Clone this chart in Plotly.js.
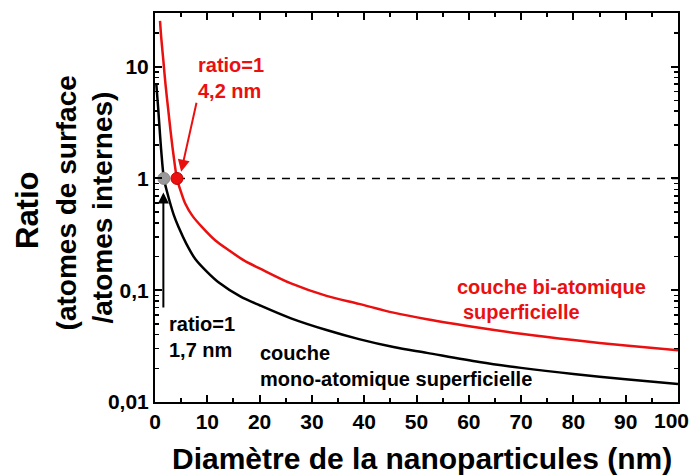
<!DOCTYPE html>
<html>
<head>
<meta charset="utf-8">
<script src="https://cdn.plot.ly/plotly-3.0.1.min.js"></script>
<style>html,body{margin:0;padding:0;background:#fff;}#chart{width:694px;height:476px;}</style>
</head>
<body>
<div id="chart"></div>
<script>
// Mono-atomic surface layer (black curve)
const monoDiameter = [0.25, 0.45, 0.64, 0.9, 1.2, 1.7, 2.3, 2.9, 3.6, 4.5, 6, 7.7, 10, 12.2, 16.3, 20.1, 26, 32.8, 39, 45.6, 52, 62, 70, 80, 90, 100];
const monoRatio    = [7.0, 5.3, 4.05, 2.7, 1.75, 1.0, 0.76, 0.6, 0.47, 0.367, 0.26, 0.19, 0.145, 0.117, 0.088, 0.073, 0.056, 0.044, 0.0365, 0.031, 0.0275, 0.0228, 0.0202, 0.0178, 0.016, 0.0145];
// Bi-atomic surface layer (red curve)
const biDiameter = [0.96, 1.2, 1.6, 2.0, 2.55, 3.0, 3.5, 4.2, 5.0, 5.8, 7.2, 9, 11.5, 14.1, 17, 20.1, 26, 32.8, 39, 45.6, 52, 62, 70, 80, 90, 100];
const biRatio    = [25.7, 18, 11.3, 7.0, 4.05, 2.6, 1.67, 1.0, 0.75, 0.594, 0.46, 0.367, 0.28, 0.228, 0.185, 0.156, 0.115, 0.089, 0.0755, 0.063, 0.055, 0.0462, 0.0408, 0.0358, 0.032, 0.029];
// Ratio = 1 crossing points
const crossDiameter = [1.7, 4.2];
const crossRatio = [1, 1];
const dashX = [4.2, 100];
const dashY = [1, 1];
// Tick labels (the last one, "100", is drawn as an annotation so it stays inside the page)
const xTickVals = [0, 10, 20, 30, 40, 50, 60, 70, 80, 90, 100];
const xTickText = ['0', '10', '20', '30', '40', '50', '60', '70', '80', '90', ''];
const xLastLabel = '100';
const yTickVals = [0.01, 0.1, 1, 10];
const yTickText = ['0,01', '0,1', '1', '10'];

const RED = '#ea1010';
const FONT = 'Liberation Sans, Arial, sans-serif';

const minorY = [];
[0.01, 0.1, 1, 10].forEach(d => { for (let k = 2; k <= 9; k++) minorY.push(d * k); });

const traces = [
  {x: dashX, y: dashY, mode: 'lines', line: {color: '#000', width: 1.5, dash: '8px,7px'}, hoverinfo: 'skip'},
  {x: monoDiameter, y: monoRatio, mode: 'lines', line: {color: '#000', width: 2.5, shape: 'spline', smoothing: 0.9}},
  {x: biDiameter, y: biRatio, mode: 'lines', line: {color: RED, width: 2.5, shape: 'spline', smoothing: 0.9}},
  {x: crossDiameter, y: crossRatio, mode: 'markers',
   marker: {size: 12, color: ['#999999', RED], line: {color: ['#888888', '#c00000'], width: 1}}}
];

const axisCommon = {
  showline: true, linecolor: '#000', linewidth: 2, mirror: 'allticks',
  ticks: 'inside', ticklen: 7, tickwidth: 2, tickcolor: '#000',
  showgrid: false, zeroline: false,
  tickfont: {family: FONT, size: 21, color: '#000', weight: 'bold'}
};

const layout = {
  width: 694, height: 476,
  margin: {l: 155, r: 16, t: 13, b: 74},
  paper_bgcolor: '#fff', plot_bgcolor: '#fff',
  showlegend: false,
  font: {family: FONT, color: '#000'},
  xaxis: Object.assign({}, axisCommon, {
    range: [0, 100], tickmode: 'array', tickvals: xTickVals, ticktext: xTickText,
    minor: {ticks: 'inside', ticklen: 4, tickwidth: 2, tickcolor: '#000', dtick: 5, tick0: 0}
  }),
  yaxis: Object.assign({}, axisCommon, {
    type: 'log', range: [-2, 1.48], tickmode: 'array', tickvals: yTickVals, ticktext: yTickText,
    minor: {ticks: 'inside', ticklen: 4, tickwidth: 1.5, tickcolor: '#000', tickmode: 'array', tickvals: minorY}
  }),
  annotations: [
    {xref: 'paper', yref: 'paper', x: 1.0249, y: -0.0488, xanchor: 'right', yanchor: 'middle',
     text: '<b>' + xLastLabel + '</b>', showarrow: false, font: {family: FONT, size: 21, color: '#000'}},
    {xref: 'paper', yref: 'paper', x: -0.2428, y: 0.4936, xanchor: 'center', yanchor: 'middle',
     text: '<b>Ratio</b>', textangle: -90, showarrow: false, font: {family: FONT, size: 31, color: '#000'}},
    {xref: 'paper', yref: 'paper', x: -0.1675, y: 0.5116, xanchor: 'center', yanchor: 'middle',
     text: '<b>(atomes de surface</b>', textangle: -90, showarrow: false, font: {family: FONT, size: 28, color: '#000'}},
    {xref: 'paper', yref: 'paper', x: -0.1006, y: 0.501, xanchor: 'center', yanchor: 'middle',
     text: '<b>/atomes internes)</b>', textangle: -90, showarrow: false, font: {family: FONT, size: 28, color: '#000'}},
    {xref: 'paper', yref: 'paper', x: 0.5105, y: -0.144, xanchor: 'center', yanchor: 'middle',
     text: '<b>Diamètre de la nanoparticules (nm)</b>', showarrow: false, font: {family: FONT, size: 30, color: '#000'}},
    {xref: 'x', yref: 'paper', x: 7.8, y: 0.834, xanchor: 'left', yanchor: 'middle', align: 'left',
     text: '<b>ratio=1<br>4,2 nm</b>', showarrow: false, font: {family: FONT, size: 20, color: RED}},
    {xref: 'x', yref: 'y', x: 5.0, y: Math.log10(1.15), ax: 8.0, ay: Math.log10(4.9), axref: 'x', ayref: 'y',
     text: '', showarrow: true, arrowhead: 2, arrowsize: 1.2, arrowwidth: 2, arrowcolor: RED},
    {xref: 'x', yref: 'y', x: 1.6, y: Math.log10(0.75), ax: 1.6, ay: Math.log10(0.068), axref: 'x', ayref: 'y',
     text: '', showarrow: true, arrowhead: 2, arrowsize: 1.1, arrowwidth: 2, arrowcolor: '#000'},
    {xref: 'x', yref: 'paper', x: 2.3, y: 0.167, xanchor: 'left', yanchor: 'middle', align: 'left',
     text: '<b>ratio=1<br>1,7 nm</b>', showarrow: false, font: {family: FONT, size: 20, color: '#000'}},
    {xref: 'x', yref: 'paper', x: 19.7, y: 0.0925, xanchor: 'left', yanchor: 'middle', align: 'left',
     text: '<b>couche<br>mono-atomique superficielle</b>', showarrow: false, font: {family: FONT, size: 20, color: '#000'}},
    {xref: 'x', yref: 'paper', x: 57.4, y: 0.2956, xanchor: 'left', yanchor: 'middle', align: 'left',
     text: '<b>couche bi-atomique</b>', showarrow: false, font: {family: FONT, size: 20, color: RED}},
    {xref: 'x', yref: 'paper', x: 58.5, y: 0.2314, xanchor: 'left', yanchor: 'middle', align: 'left',
     text: '<b>superficielle</b>', showarrow: false, font: {family: FONT, size: 20, color: RED}}
  ]
};

Plotly.newPlot('chart', traces, layout, {displayModeBar: false, staticPlot: true});
</script>
</body>
</html>
